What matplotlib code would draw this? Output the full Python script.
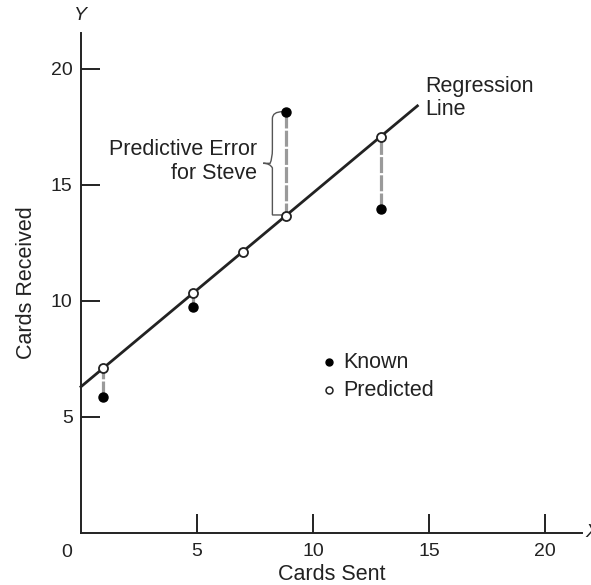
import matplotlib
matplotlib.use("Agg")
import matplotlib.pyplot as plt
from matplotlib.path import Path
from matplotlib.patches import PathPatch

plt.rcParams['font.family'] = ['Liberation Sans', 'DejaVu Sans']

# data
cards_sent = [0.95, 4.85, 7.0, 8.85, 12.95]
known = [5.85, 9.75, 12.1, 18.15, 13.95]
predicted = [7.1, 10.35, 12.1, 13.65, 17.05]
line_x = [0, 14.5]
line_y = [6.3, 18.4]
ticks = [5, 10, 15, 20]

ink = '#222222'
fs = 15.5
fig = plt.figure(figsize=(5.91, 5.85), dpi=100)
ax = fig.add_axes([0.137, 0.089, 0.848, 0.855])
ax.set_xlim(0, 21.6)
ax.set_ylim(0, 21.55)

for s in ['top', 'right']:
    ax.spines[s].set_visible(False)
for s in ['left', 'bottom']:
    ax.spines[s].set_linewidth(1.4)
    ax.spines[s].set_color(ink)

ax.set_xticks(ticks)
ax.set_yticks(ticks)
ax.tick_params(direction='in', length=14, width=1.4, color=ink,
               labelsize=14, labelcolor=ink)
ax.tick_params(axis='x', pad=7)
ax.tick_params(axis='y', pad=6)
# origin label
ax.text(-0.6, -0.85, '0', ha='center', va='center', fontsize=14, color=ink,
        clip_on=False)

# error lines (known vs predicted)
for x, k, p in zip(cards_sent, known, predicted):
    if k != p:
        ax.plot([x, x], [k, p], color='#9a9a9a', lw=2.3,
                linestyle=(0, (5, 0.7)), zorder=2)

# regression line
ax.plot(line_x, line_y, color=ink, lw=2.0, zorder=3, clip_on=False)

kx = [x for x, k, p in zip(cards_sent, known, predicted) if k != p]
ky = [k for k, p in zip(known, predicted) if k != p]
ax.plot(kx, ky, 'o', color='black', ms=6.5, zorder=4)
ax.plot(cards_sent, predicted, 'o', mfc='white', mec=ink, mew=1.3, ms=6.5, zorder=5)

# brace for Steve
bx, by0, by1 = 8.7, 13.7, 18.15
ym = (by0 + by1) / 2
w = 0.45
verts = [(bx, by1), (bx - w, by1), (bx - w, by1 - 0.3), (bx - w, ym + 0.6),
         (bx - w, ym + 0.2), (bx - w - 0.1, ym), (bx - w - 0.4, ym),
         (bx - w - 0.1, ym), (bx - w, ym - 0.2), (bx - w, ym - 0.6),
         (bx - w, by0 + 0.3), (bx - w, by0), (bx, by0)]
codes = [Path.MOVETO, Path.CURVE3, Path.CURVE3, Path.LINETO,
         Path.CURVE3, Path.CURVE3, Path.LINETO,
         Path.CURVE3, Path.CURVE3, Path.LINETO,
         Path.CURVE3, Path.CURVE3, Path.LINETO]
ax.add_patch(PathPatch(Path(verts, codes), fc='none', ec='#555555', lw=1.0))

ax.text(7.6, 16.0, 'Predictive Error\nfor Steve', ha='right', va='center',
        fontsize=fs, color=ink, linespacing=1.15)
ax.text(14.85, 18.75, 'Regression\nLine', ha='left', va='center',
        fontsize=fs, color=ink, linespacing=1.15)

# legend drawn by hand
ax.plot([10.7], [7.35], 'o', color='black', ms=5)
ax.plot([10.7], [6.15], 'o', mfc='white', mec=ink, mew=1.1, ms=5)
ax.text(11.3, 7.35, 'Known', ha='left', va='center', fontsize=fs, color=ink)
ax.text(11.3, 6.15, 'Predicted', ha='left', va='center', fontsize=fs, color=ink)

ax.set_ylabel('Cards Received', fontsize=fs, color=ink, labelpad=10)
ax.set_xlabel('Cards Sent', fontsize=fs, color=ink, labelpad=3)
ax.text(0, 22.3, 'Y', ha='center', va='center', fontsize=14, style='italic', color=ink)
ax.text(21.75, 0, 'X', ha='left', va='center', fontsize=14, style='italic',
        color=ink, clip_on=False)

fig.savefig('out.png', dpi=100)
